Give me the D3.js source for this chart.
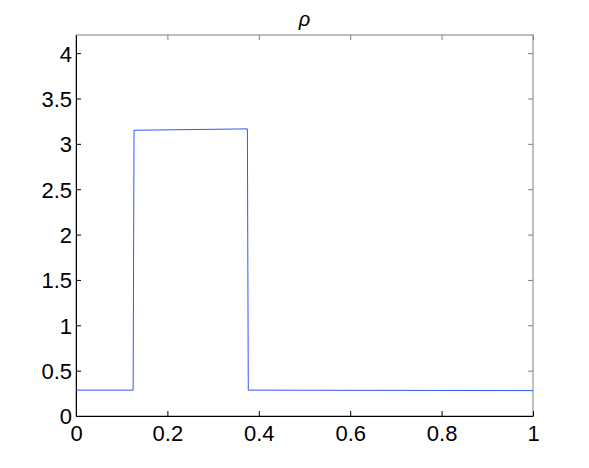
<!DOCTYPE html>
<html>
<head>
<meta charset="utf-8">
<script src="https://cdn.jsdelivr.net/npm/d3@7"></script>
<style>
  body { margin: 0; background: #fff; }
  text { font-family: "Liberation Sans", Arial, sans-serif; }
</style>
</head>
<body>
<div id="viz"></div>
<script>
const margin = {top: 35, right: 56, bottom: 52, left: 76};
const width = 589;
const height = 468;

// density profile (piecewise)
const xs = [0, 0.125, 0.127, 0.375, 0.377, 1];
const rho = [0.285, 0.285, 3.15, 3.165, 0.285, 0.28];
const xTicks = [0, 0.2, 0.4, 0.6, 0.8, 1];
const yTicks = [0, 0.5, 1, 1.5, 2, 2.5, 3, 3.5, 4];

const svg = d3.select('#viz')
  .append('svg')
    .attr('width', width)
    .attr('height', height);

const xScale = d3.scaleLinear()
  .domain([0, 1])
  .range([margin.left, width - margin.right]);

const yScale = d3.scaleLinear()
  .domain([0, 4.2])
  .range([height - margin.bottom, margin.top]);

// box: top/right grey, bottom/left black
svg.append('rect')
  .attr('x', margin.left)
  .attr('y', margin.top)
  .attr('width', xScale(1) - margin.left)
  .attr('height', yScale(0) - margin.top)
  .attr('fill', 'none')
  .attr('stroke', '#808080')
  .attr('stroke-width', 1);

// top + right ticks
svg.append('g').selectAll('line').data(xTicks).join('line')
  .attr('x1', d => xScale(d) + 0.5).attr('x2', d => xScale(d) + 0.5)
  .attr('y1', margin.top).attr('y2', margin.top + 5)
  .attr('stroke', '#808080');
svg.append('g').selectAll('line').data(yTicks).join('line')
  .attr('y1', d => yScale(d) + 0.5).attr('y2', d => yScale(d) + 0.5)
  .attr('x1', xScale(1)).attr('x2', xScale(1) - 5)
  .attr('stroke', '#808080');

const xAxis = svg.append('g')
  .attr('transform', `translate(0, ${yScale(0)})`)
  .call(d3.axisBottom(xScale).tickValues(xTicks).tickSizeInner(-5).tickSizeOuter(0)
    .tickPadding(9).tickFormat(d3.format('~g')));

const yAxis = svg.append('g')
  .attr('transform', `translate(${margin.left}, 0)`)
  .call(d3.axisLeft(yScale).tickValues(yTicks).tickSizeInner(-5).tickSizeOuter(0)
    .tickPadding(4).tickFormat(d3.format('~g')));

[xAxis, yAxis].forEach(a => {
  a.selectAll('text').attr('font-size', 22).attr('fill', '#000')
    .attr('font-family', '"Liberation Sans", Arial, sans-serif');
  a.selectAll('line').attr('stroke', '#000');
  a.select('.domain').attr('stroke', '#000');
});
xAxis.selectAll('text').attr('dy', '0.71em');
yAxis.selectAll('text').attr('dy', '0.36em');

const line = d3.line()
  .x((d, i) => xScale(xs[i]))
  .y(d => yScale(d));

svg.append('path')
  .attr('d', line(rho))
  .attr('fill', 'none')
  .attr('stroke', '#3355ff')
  .attr('stroke-width', 1);

svg.append('text')
  .attr('x', (xScale(0) + xScale(1)) / 2)
  .attr('y', 26)
  .attr('text-anchor', 'middle')
  .attr('font-family', '"DejaVu Serif", "Liberation Serif", serif')
  .attr('font-style', 'italic')
  .attr('font-size', 20)
  .text('ρ');
</script>
</body>
</html>
